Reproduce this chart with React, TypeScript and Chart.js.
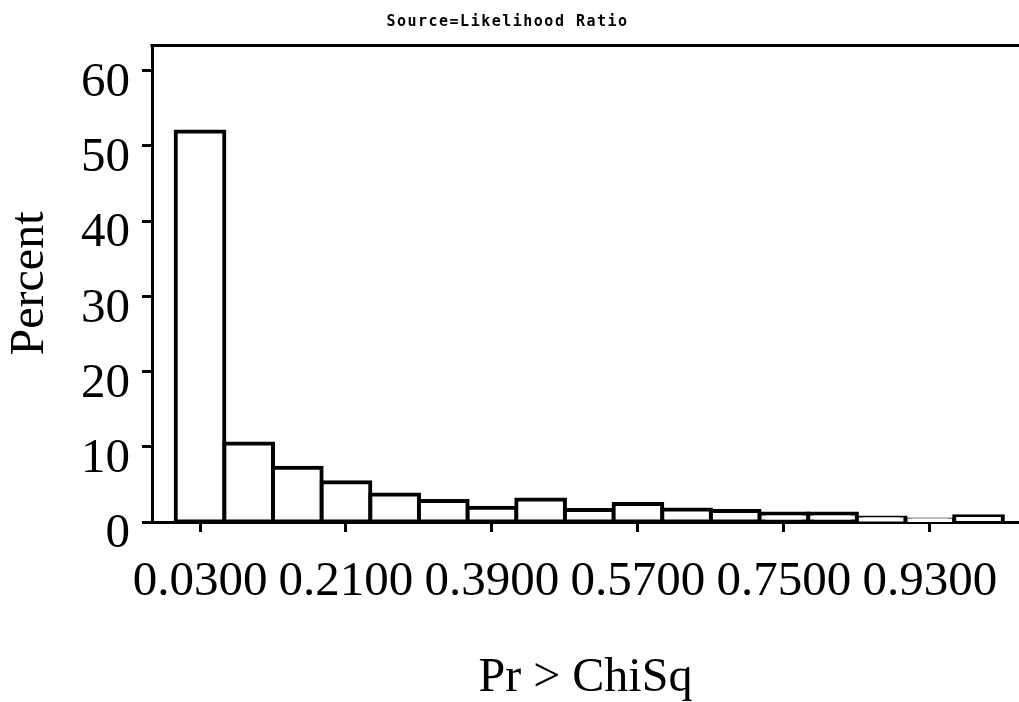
import React, { useEffect, useRef } from 'react';
import { Chart, registerables } from 'chart.js';

Chart.register(...registerables);

const binMidpoints = [0.03, 0.09, 0.15, 0.21, 0.27, 0.33, 0.39, 0.45, 0.51, 0.57, 0.63, 0.69, 0.75, 0.81, 0.87, 0.93, 0.99];
const percentValues = [51.9, 10.45, 7.22, 5.27, 3.67, 2.79, 1.9, 3.0, 1.6, 2.39, 1.65, 1.46, 1.12, 1.12, 0.59, 0.32, 0.76];
const xTickValues = [0.03, 0.21, 0.39, 0.57, 0.75, 0.93];
const yTickValues = [0, 10, 20, 30, 40, 50, 60];
const titleText = 'Source=Likelihood Ratio';
const xTitle = 'Pr > ChiSq';
const yTitle = 'Percent';

const serif = 'Liberation Serif';

const framePlugin = {
  id: 'sasFrame',
  afterDraw(chart: any) {
    const { ctx, chartArea } = chart;
    ctx.save();
    ctx.fillStyle = '#000';
    ctx.font = 'bold 15px "DejaVu Sans Mono"';
    (ctx as any).letterSpacing = '1.5px';
    ctx.textAlign = 'center';
    ctx.textBaseline = 'alphabetic';
    ctx.fillText(titleText, chart.width / 2 - 2, 26);
    (ctx as any).letterSpacing = '0px';
    ctx.strokeStyle = '#000';
    ctx.lineWidth = 3;
    ctx.beginPath();
    ctx.moveTo(chartArea.left - 1.5, chartArea.top + 0.5);
    ctx.lineTo(chartArea.right, chartArea.top + 0.5);
    ctx.stroke();
    ctx.restore();
  },
};

export default function App() {
  const ref = useRef<HTMLCanvasElement>(null);
  useEffect(() => {
    if (!ref.current) return;
    const chart = new Chart(ref.current, {
      type: 'bar',
      data: {
        datasets: [
          {
            data: binMidpoints.map((x, i) => ({ x, y: percentValues[i] })),
            backgroundColor: '#ffffff',
            borderColor: '#000000',
            borderWidth: 4,
            borderSkipped: false,
            inflateAmount: 2,
            barPercentage: 1,
            categoryPercentage: 1,
          } as any,
        ],
      },
      options: {
        responsive: false,
        animation: false,
        devicePixelRatio: 1,
        layout: { padding: { top: 45, left: 0, right: 0, bottom: 0 } },
        plugins: { legend: { display: false }, tooltip: { enabled: false }, title: { display: false } },
        scales: {
          x: {
            type: 'linear',
            min: -0.0292,
            max: 1.0399,
            offset: false,
            grid: {
              offset: false,
              drawOnChartArea: false,
              drawTicks: true,
              tickLength: 10,
              tickWidth: 3,
              tickColor: '#000',
            },
            border: { display: true, color: '#000', width: 3 },
            afterBuildTicks: (scale: any) => {
              scale.ticks = xTickValues.map((v) => ({ value: v }));
            },
            afterFit: (scale: any) => {
              scale.height = 180;
              scale.paddingLeft = 0;
              scale.paddingRight = 0;
            },
            ticks: {
              autoSkip: false,
              maxRotation: 0,
              minRotation: 0,
              padding: 21,
              color: '#000',
              font: { family: serif, size: 49 },
              callback: (v: any) => Number(v).toFixed(4),
            },
            title: {
              display: true,
              text: xTitle,
              color: '#000',
              font: { family: serif, size: 48, lineHeight: 1 },
              padding: 0,
            },
          },
          y: {
            type: 'linear',
            min: 0,
            max: 63.4,
            grid: {
              drawOnChartArea: false,
              drawTicks: true,
              tickLength: 10,
              tickWidth: 3,
              tickColor: '#000',
            },
            border: { display: true, color: '#000', width: 3 },
            afterBuildTicks: (scale: any) => {
              scale.ticks = yTickValues.map((v) => ({ value: v }));
            },
            afterFit: (scale: any) => {
              scale.width = 152;
              scale.paddingTop = 0;
              scale.paddingBottom = 0;
            },
            ticks: {
              padding: 12,
              labelOffset: 12.5,
              color: '#000',
              font: { family: serif, size: 49 },
              callback: (v: any) => String(v),
            },
            title: {
              display: true,
              text: yTitle,
              color: '#000',
              font: { family: serif, size: 48, lineHeight: 1 },
              padding: { top: 6, bottom: 0 },
            },
          },
        },
      },
      plugins: [framePlugin],
    } as any);
    return () => chart.destroy();
  }, []);
  return (
    <div style={{ position: 'absolute', left: 0, top: 0, width: 1019, height: 702, background: '#fff' }}>
      <canvas ref={ref} width={1019} height={702} />
    </div>
  );
}
